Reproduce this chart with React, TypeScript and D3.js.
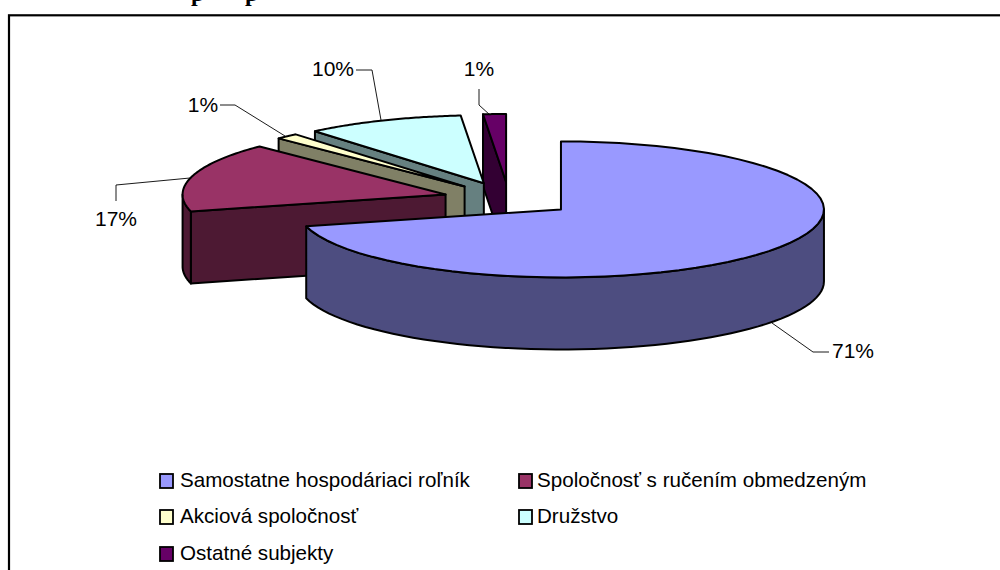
import React from "react";
import * as d3 from "d3";

const categories = ["Samostatne hospodáriaci roľník", "Spoločnosť s ručením obmedzeným", "Akciová spoločnosť", "Družstvo", "Ostatné subjekty"];
const shares = [71, 16.5, 1.4, 9.7, 1.4];
const shareLabels = ["71%", "17%", "1%", "10%", "1%"];
const topColors = ["#9999FF", "#993366", "#FFFFCC", "#CCFFFF", "#660066"];
const sideColors = ["#4D4D80", "#4D1933", "#808066", "#668080", "#330033"];

// layout
const W = 1000, H = 570;
const CX = 509, CY = 199, RX = 263, RY = 68, DEPTH = 72, EXPLODE = 0.25;
const leaders = [
  { text: [832, 358], anchor: "start", pts: [[772, 323], [813, 352], [829, 352]] },
  { text: [116, 226], anchor: "middle", pts: [[190, 178], [116, 185], [116, 201]] },
  { text: [203, 112], anchor: "middle", pts: [[285, 136], [235, 105], [220, 105]] },
  { text: [333, 76], anchor: "middle", pts: [[381, 120], [372, 70], [356, 70]] },
  { text: [479, 76], anchor: "middle", pts: [[490, 115], [479, 105], [479, 89]] },
];
const legendPos = [[160, 481], [519, 481], [160, 517], [519, 517], [160, 554]];
const legendTextX = [180, 537, 180, 537, 180];
const titleFragments = [{ t: "p", x: 191 }, { t: "p", x: 245 }];

const pie = d3.pie<number>().sort(null).value((d) => d);
const arcs = pie(shares);
const TAU = 2 * Math.PI;

type P = [number, number];
function onRim(cx: number, cy: number, a: number): P {
  return [cx + RX * Math.sin(a), cy - RY * Math.cos(a)];
}
function rimPts(cx: number, cy: number, a0: number, a1: number): P[] {
  return d3.range(0, 61).map((i) => onRim(cx, cy, a0 + ((a1 - a0) * i) / 60));
}
const poly = (pts: P[]) => (d3.line()(pts) as string) + "Z";

export default function App() {
  // back slices first, the big slice last
  const order = [4, 3, 2, 1, 0];
  return (
    <svg width={W} height={H} viewBox={`0 0 ${W} ${H}`} style={{ position: "absolute", left: 0, top: 0, background: "#fff" }} fontFamily="'Liberation Sans', Arial, sans-serif">
      {titleFragments.map((f) => (
        <text key={f.x} x={f.x} y={1} fontFamily="'Liberation Serif', serif" fontWeight="bold" fontSize={24} fill="#000">{f.t}</text>
      ))}
      <rect x={9} y={15.3} width={W + 20} height={H} fill="#fff" stroke="#000" strokeWidth={2.2} />
      {order.map((i) => {
        const a = arcs[i];
        const mid = (a.startAngle + a.endAngle) / 2;
        const cx = CX + EXPLODE * RX * Math.sin(mid);
        const cy = CY - EXPLODE * RY * Math.cos(mid);
        const s0 = onRim(cx, cy, a.startAngle);
        const s1 = onRim(cx, cy, a.endAngle);
        const down = (p: P): P => [p[0], p[1] + DEPTH];
        const apex: P = [cx, cy];
        const els: React.ReactNode[] = [];
        const strokeProps = { stroke: "#000", strokeWidth: 2, strokeLinejoin: "round" as const };
        if (Math.sin(a.startAngle) < 0) {
          els.push(<path key="s" d={poly([s0, apex, down(apex), down(s0)])} fill={sideColors[i]} {...strokeProps} />);
        }
        if (Math.sin(a.endAngle) > 0.001) {
          els.push(<path key="e" d={poly([s1, apex, down(apex), down(s1)])} fill={sideColors[i]} {...strokeProps} />);
        }
        const f0 = Math.max(a.startAngle, TAU / 4);
        const f1 = Math.min(a.endAngle, (3 * TAU) / 4);
        if (f1 > f0) {
          const top = rimPts(cx, cy, f0, f1);
          els.push(<path key="o" d={poly([...top, ...top.slice().reverse().map(down)])} fill={sideColors[i]} {...strokeProps} />);
        }
        els.push(<path key="t" d={poly([apex, ...rimPts(cx, cy, a.startAngle, a.endAngle)])} fill={topColors[i]} {...strokeProps} />);
        return <g key={i}>{els}</g>;
      })}
      {leaders.map((l, i) => (
        <g key={i}>
          <polyline points={l.pts.join(" ")} fill="none" stroke="#000" strokeWidth={0.9} />
          <text x={l.text[0]} y={l.text[1]} textAnchor={l.anchor as "start" | "middle"} fontSize={21} fill="#000">{shareLabels[i]}</text>
        </g>
      ))}
      {categories.map((c, i) => (
        <g key={c}>
          <rect x={legendPos[i][0]} y={legendPos[i][1] - 7} width={13} height={14} fill={topColors[i]} stroke="#000" strokeWidth={1.8} />
          <text x={legendTextX[i]} y={legendPos[i][1] + 6} fontSize={20.6} fill="#000">{c}</text>
        </g>
      ))}
    </svg>
  );
}
